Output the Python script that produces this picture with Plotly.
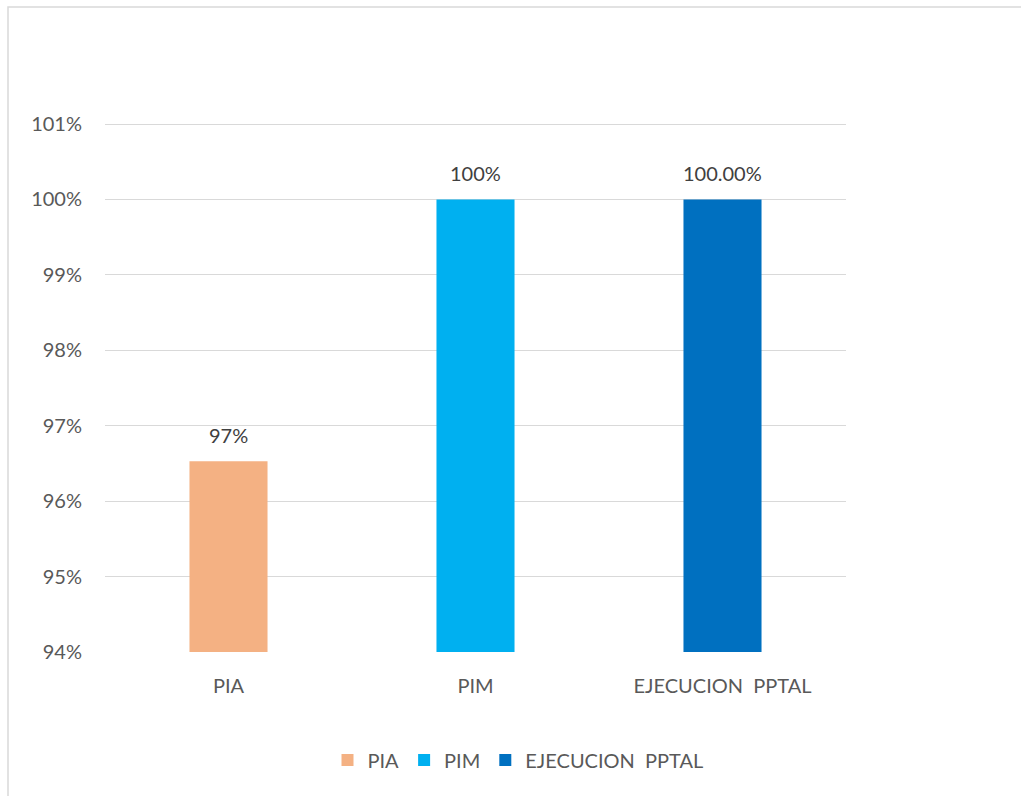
import plotly.graph_objects as go

categories = ["PIA", "PIM", "EJECUCION  PPTAL"]
values = [96.53, 100.0, 100.0]
value_labels = ["97%", "100%", "100.00%"]
colors = ["#F4B183", "#00B0F0", "#0070C0"]
y_ticks = [94, 95, 96, 97, 98, 99, 100, 101]
y_tick_text = ["94%", "95%", "96%", "97%", "98%", "99%", "100%", "101%"]

W, H = 1021, 796
L, R, T, B = 105, 175, 122, 144
plot_w = W - L - R
plot_h = H - T - B
FONT = "Lato, Open Sans, sans-serif"

fig = go.Figure()
for cat, val, col in zip(categories, values, colors):
    fig.add_trace(go.Bar(
        x=[cat], y=[val], name=cat, marker_color=col,
        marker_line_width=0, width=0.316,
    ))

for cat, val, lab in zip(categories, values, value_labels):
    fig.add_annotation(
        x=cat, y=val, text=lab, showarrow=False,
        yanchor="bottom", yshift=12,
        font=dict(family=FONT, size=20, color="#404040"),
    )

# outer chart border
fig.add_shape(
    type="rect", xref="paper", yref="paper",
    x0=(8 - L) / plot_w, x1=(W + 20 - L) / plot_w,
    y0=-(H + 20 - (H - B)) / plot_h, y1=1 + (T - 7) / plot_h,
    line=dict(color="#d9d9d9", width=1.5), fillcolor="rgba(0,0,0,0)", layer="below",
)

fig.update_layout(
    width=W, height=H,
    margin=dict(l=L, r=R, t=T, b=B),
    paper_bgcolor="white", plot_bgcolor="white",
    barmode="overlay",
    font=dict(family=FONT, size=20, color="#595959"),
    legend=dict(
        orientation="h", x=(518 - L) / plot_w, xanchor="center",
        y=-(760 - (H - B)) / plot_h, yanchor="middle",
        font=dict(size=20, color="#595959"),
        itemwidth=30, traceorder="normal",
    ),
    showlegend=True,
)
fig.update_yaxes(
    range=[94, 101.027], tickvals=y_ticks, ticktext=y_tick_text,
    showgrid=True, gridcolor="#d9d9d9", gridwidth=1,
    zeroline=False, showline=False, ticklabelstandoff=22,
)
fig.update_xaxes(
    showgrid=False, showline=False, ticks="", ticklabelstandoff=20,
    categoryorder="array", categoryarray=categories,
)

fig.write_html("out.html")
